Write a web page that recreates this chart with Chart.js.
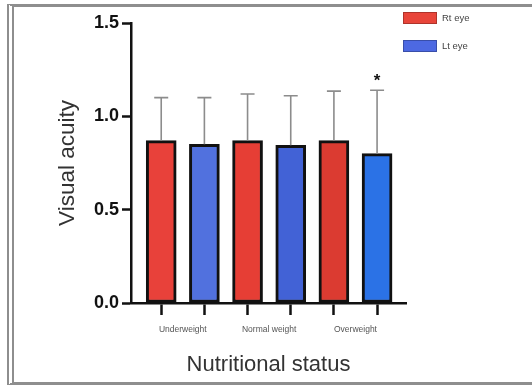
<!DOCTYPE html>
<html>
<head>
<meta charset="utf-8">
<script src="https://cdn.jsdelivr.net/npm/chart.js@4"></script>
<style>
  html, body { margin: 0; padding: 0; background: #fff; overflow: hidden; }
  #wrap { position: relative; width: 532px; height: 385px; overflow: hidden; }
  #frame { position: absolute; left: 7px; top: 4px; width: 525px; height: 381px; box-sizing: border-box;
           border-top: 3px solid #8e8e8e; border-bottom: 3px solid #8e8e8e;
           border-left: 7px double #8e8e8e; border-right: none; pointer-events: none; }
  canvas { position: absolute; left: 0; top: 0; }
</style>
</head>
<body>
<div id="wrap">
  <canvas id="c" width="532" height="385"></canvas>
  <div id="frame"></div>
</div>
<script>
// ---- data ----
const categories = ['Underweight', 'Normal weight', 'Overweight'];
const seriesNames = ['Rt eye', 'Lt eye'];
const rtMean = [0.87, 0.87, 0.87];
const ltMean = [0.85, 0.845, 0.80];
const rtSD = [0.23, 0.25, 0.265];
const ltSD = [0.25, 0.265, 0.34];
const ltMarks = ['', '', '*'];
const yTicks = [0, 0.5, 1.0, 1.5];

// ---- styles ----
const rtColors = ['#E8413A', '#E63E35', '#DB3B31'];
const ltColors = ['#5171DE', '#4262D6', '#2B72E6'];
const legendColors = ['#E8453A', '#4D69E2'];

// bar positions on the x axis (Rt at 2i, Lt at 2i+1), group labels in between
const rtPts = rtMean.map((v, i) => ({ x: 2 * i, y: v }));
const ltPts = ltMean.map((v, i) => ({ x: 2 * i + 1, y: v }));
const barTicks = [0, 1, 2, 3, 4, 5];
const labelTicks = categories.map((c, i) => 2 * i + 0.5);
const allTicks = barTicks.concat(labelTicks).sort((a, b) => a - b);

const errorBars = {
  id: 'errorBars',
  afterDatasetsDraw(chart) {
    const ctx = chart.ctx;
    const ys = chart.scales.y;
    const sds = [rtSD, ltSD];
    const means = [rtMean, ltMean];
    ctx.save();
    chart.data.datasets.forEach((ds, di) => {
      const meta = chart.getDatasetMeta(di);
      meta.data.forEach((bar, j) => {
        const top = ys.getPixelForValue(means[di][j] + sds[di][j]);
        ctx.strokeStyle = '#8c8c8c';
        ctx.lineWidth = 1.6;
        ctx.beginPath();
        ctx.moveTo(bar.x, bar.y);
        ctx.lineTo(bar.x, top);
        ctx.moveTo(bar.x - 7, top);
        ctx.lineTo(bar.x + 7, top);
        ctx.stroke();
        if (di === 1 && ltMarks[j]) {
          ctx.fillStyle = '#111';
          ctx.font = 'bold 17px "Liberation Sans", Arial, sans-serif';
          ctx.textAlign = 'center';
          ctx.textBaseline = 'middle';
          ctx.fillText(ltMarks[j], bar.x, top - 9);
        }
      });
    });
    ctx.restore();
  }
};

const customLegend = {
  id: 'customLegend',
  afterDraw(chart) {
    const ctx = chart.ctx;
    const x0 = chart.chartArea.right - 3;
    ctx.save();
    chart.data.datasets.forEach((ds, i) => {
      const y = 12 + i * 28;
      ctx.fillStyle = legendColors[i];
      ctx.fillRect(x0, y, 34, 12);
      ctx.strokeStyle = 'rgba(0,0,0,0.25)';
      ctx.lineWidth = 1;
      ctx.strokeRect(x0 + 0.5, y + 0.5, 33, 11);
      ctx.fillStyle = '#444';
      ctx.font = '9.5px "Liberation Sans", Arial, sans-serif';
      ctx.textAlign = 'left';
      ctx.textBaseline = 'middle';
      ctx.fillText(ds.label, x0 + 39, y + 6.5);
    });
    ctx.restore();
  }
};

new Chart(document.getElementById('c'), {
  type: 'bar',
  data: {
    datasets: [
      { label: seriesNames[0], data: rtPts, backgroundColor: rtColors },
      { label: seriesNames[1], data: ltPts, backgroundColor: ltColors }
    ]
  },
  options: {
    responsive: false,
    animation: false,
    devicePixelRatio: 1,
    layout: { padding: { top: 23, right: 126, left: 0, bottom: 0 } },
    datasets: {
      bar: {
        grouped: false,
        barThickness: 30,
        borderColor: '#111',
        borderWidth: 3,
        borderSkipped: false
      }
    },
    plugins: {
      legend: { display: false },
      tooltip: { enabled: false }
    },
    scales: {
      x: {
        type: 'linear',
        offset: false,
        min: -0.7,
        max: 5.67,
        afterBuildTicks(scale) { scale.ticks = allTicks.map(v => ({ value: v })); },
        afterFit(scale) { scale.height = 82; },
        ticks: {
          autoSkip: false,
          maxRotation: 0,
          padding: 10,
          color: '#555',
          font: { family: '"Liberation Sans", Arial, sans-serif', size: 8.5 },
          callback(value) {
            const k = labelTicks.indexOf(value);
            return k >= 0 ? categories[k] : '';
          }
        },
        grid: {
          offset: false,
          drawOnChartArea: false,
          tickLength: 12,
          tickWidth: 2.5,
          tickColor: (ctx) => (ctx.tick && Number.isInteger(ctx.tick.value)) ? '#111' : 'rgba(0,0,0,0)'
        },
        border: { color: '#111', width: 2.5 },
        title: {
          display: true,
          text: 'Nutritional status',
          color: '#333',
          font: { family: '"Liberation Sans", Arial, sans-serif', size: 22 },
          padding: { top: 0, bottom: 7 }
        }
      },
      y: {
        min: 0,
        max: 1.5,
        afterBuildTicks(scale) { scale.ticks = yTicks.map(v => ({ value: v })); },
        afterFit(scale) { scale.width = 131; },
        ticks: {
          padding: 3,
          color: '#111',
          font: { family: '"Liberation Sans", Arial, sans-serif', size: 18, weight: 'bold' },
          callback(value) { return Number(value).toFixed(1); }
        },
        grid: {
          drawOnChartArea: false,
          tickLength: 9,
          tickWidth: 2.5,
          tickColor: '#111'
        },
        border: { color: '#111', width: 2.5 },
        title: {
          display: true,
          text: 'Visual acuity',
          color: '#333',
          font: { family: '"Liberation Sans", Arial, sans-serif', size: 22.5 },
          padding: { top: 54, bottom: 0 }
        }
      }
    }
  },
  plugins: [errorBars, customLegend]
});
</script>
</body>
</html>
